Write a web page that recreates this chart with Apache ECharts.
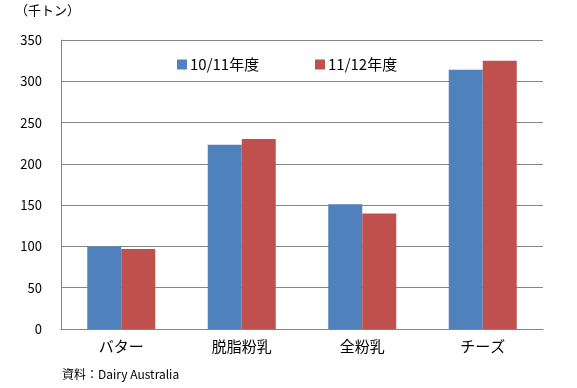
<!DOCTYPE html>
<html><head><meta charset="utf-8">
<script src="https://cdn.jsdelivr.net/npm/echarts@6/dist/echarts.min.js"></script>
<style>html,body{margin:0;padding:0;background:#fff}#c{width:577px;height:388px}</style>
</head><body><div id="c"></div>
<script>
const categories = ['バター', '脱脂粉乳', '全粉乳', 'チーズ'];
const series1011 = [100, 223, 151, 314];
const series1112 = [97, 230, 140, 325];
const seriesNames = ['10/11年度', '11/12年度'];
const yTicks = [0, 50, 100, 150, 200, 250, 300, 350];

const font = '"Noto Sans CJK JP", "Noto Sans", sans-serif';
const chart = echarts.init(document.getElementById('c'), null, {renderer: 'canvas'});
chart.setOption({
  animation: false,
  backgroundColor: '#fff',
  textStyle: {fontFamily: font},
  graphic: [
    {type: 'text', left: 15, top: 4, style: {text: '（千トン）', fontSize: 13, fill: '#000', fontFamily: font}},
    {type: 'text', left: 62, top: 368, style: {text: '資料：Dairy Australia', fontSize: 12, fill: '#000', fontFamily: font}}
  ],
  legend: [
    {data: [seriesNames[0]], left: 172, top: 52, itemWidth: 10, itemHeight: 10, itemGap: 4,
     icon: 'rect', textStyle: {fontSize: 15, color: '#000', fontFamily: font, padding: [0, 0, 0, -2]}},
    {data: [seriesNames[1]], left: 310, top: 52, itemWidth: 10, itemHeight: 10, itemGap: 4,
     icon: 'rect', textStyle: {fontSize: 15, color: '#000', fontFamily: font, padding: [0, 0, 0, -2]}}
  ],
  grid: {left: 61, right: 34, top: 40, bottom: 59, containLabel: false},
  xAxis: {
    type: 'category', data: categories,
    axisLine: {lineStyle: {color: '#868686', width: 1}},
    axisTick: {show: false},
    axisLabel: {fontSize: 15, color: '#000', margin: 10, fontFamily: font}
  },
  yAxis: {
    type: 'value', min: yTicks[0], max: yTicks[yTicks.length - 1], interval: 50,
    axisLine: {show: true, lineStyle: {color: '#868686', width: 1}},
    axisTick: {show: false},
    splitLine: {lineStyle: {color: '#868686', width: 1}},
    axisLabel: {fontSize: 13, color: '#000', margin: 19, fontFamily: font}
  },
  series: [
    {name: seriesNames[0], type: 'bar', data: series1011, barWidth: 34, barGap: '0%',
     itemStyle: {color: '#4F81BD'}},
    {name: seriesNames[1], type: 'bar', data: series1112, barWidth: 34, barGap: '0%',
     itemStyle: {color: '#C0504D'}}
  ]
});
</script>
</body></html>
